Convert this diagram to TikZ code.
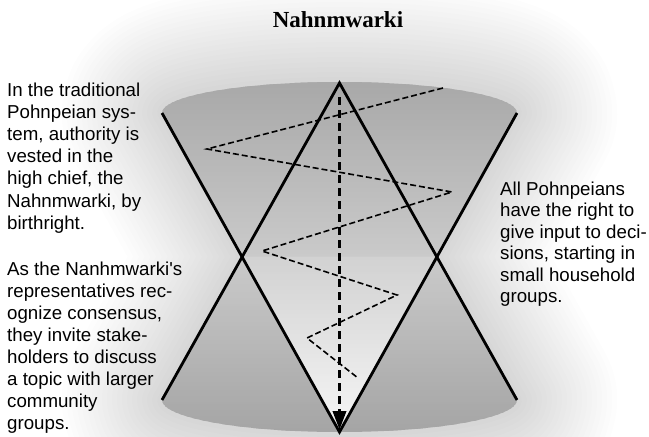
\documentclass[tikz,border=0pt]{standalone}
\usepackage{fontspec}
\setmainfont{Liberation Sans}
\newfontfamily\titlefont{Liberation Serif}
\usetikzlibrary{arrows.meta}
\definecolor{shTop}{HTML}{A8A8A8}
\definecolor{shMid}{HTML}{CACACA}
\definecolor{shBot}{HTML}{A4A4A4}
\definecolor{inTop}{HTML}{D2D2D2}
\definecolor{inBot}{HTML}{F6F6F6}
\tikzset{
  txt/.style={anchor=base west, inner sep=0pt, font=\fontsize{18.7}{22}\selectfont},
  bar/.style={line width=2.8pt, black, line join=miter},
  zig/.style={line width=1.6pt, black, dash pattern=on 6pt off 3pt},
  vert/.style={line width=3.6pt, black, dash pattern=on 8pt off 5pt, -{Triangle[width=13pt,length=19pt]}},
  glow/.style={line join=round, draw=black, opacity=0.009}
}
\begin{document}
\begin{tikzpicture}[x=1pt,y=-1pt]
\useasboundingbox (0,0) rectangle (649,437);
\fill[white] (0,0) rectangle (649,437);
% key points
\coordinate (TL) at (162,113);
\coordinate (TR) at (517,113);
\coordinate (AP) at (339.5,83);
\coordinate (BV) at (339.5,432);
\coordinate (BL) at (162,400);
\coordinate (BR) at (517,400);
\coordinate (WL) at (242,256.7);
\coordinate (WR) at (437,256.7);
% soft glow around the shape
\foreach \w in {10,20,...,200} {
  \draw[glow, line width=\w pt] (TL) arc[start angle=180, end angle=0, x radius=177.5pt, y radius=31pt]
    -- (WR) -- (BR) arc[start angle=0, end angle=-180, x radius=177.5pt, y radius=32pt]
    -- (WL) -- cycle;
}
% body shading (horizontal stripes)
\begin{scope}
  \clip (TL) arc[start angle=180, end angle=0, x radius=177.5pt, y radius=31pt]
    -- (WR) -- (BR) arc[start angle=0, end angle=-180, x radius=177.5pt, y radius=32pt]
    -- (WL) -- cycle;
  \foreach \y in {80,82,...,256} {
    \pgfmathtruncatemacro\m{(257-\y)/177*100}
    \fill[shTop!\m!shMid] (150,\y) rectangle (530,\y+2.6);
  }
  \foreach \y in {256,258,...,434} {
    \pgfmathtruncatemacro\m{min(100,(\y-256)/178*100)}
    \fill[shBot!\m!shMid] (150,\y) rectangle (530,\y+2.6);
  }
  \clip (WL) -- (WR) -- (BV) -- cycle;
  \foreach \y in {256,258,...,434} {
    \pgfmathtruncatemacro\m{min(100,(\y-256)/176*100)}
    \fill[inBot!\m!inTop] (150,\y) rectangle (530,\y+2.6);
  }
\end{scope}
% zigzag dashed path
\coordinate (Z1) at (443,88);
\coordinate (Z2) at (207,149);
\coordinate (Z3) at (452,192);
\coordinate (Z4) at (262,251);
\coordinate (Z5) at (397,295);
\coordinate (Z6) at (307,338);
\coordinate (Z7) at (358,378);
\draw[zig] (Z1) -- (Z2) -- (Z3) -- (Z4) -- (Z5) -- (Z6) -- (Z7);
% vertical arrow
\coordinate (VT) at (339.5,97);
\coordinate (VB) at (339.5,430);
\draw[vert] (VT) -- (VB);
% X lines
\draw[bar] (BL) -- (AP) -- (BR);
\draw[bar] (TL) -- (BV) -- (TR);
% title
\node[anchor=base, inner sep=0pt, font=\titlefont\bfseries\fontsize{23}{26}\selectfont] (title) at (338,27) {Nahnmwarki};
% left text
\foreach \t [count=\i from 0] in {In the traditional, Pohnpeian sys-, {tem, authority is}, vested in the, {high chief, the}, {Nahnmwarki, by}, birthright.}
  \node[txt] (la\i) at (7,{96+22.2*\i}) {\t};
\foreach \t [count=\i from 0] in {As the Nanhmwarki\textquotesingle s, representatives rec-, {ognize consensus,}, they invite stake-, holders to discuss, a topic with larger, community, groups.}
  \node[txt] (lb\i) at (7,{275+22.1*\i}) {\t};
% right text
\foreach \t [count=\i from 0] in {All Pohnpeians, have the right to, give input to deci-, {sions, starting in}, small household, groups.}
  \node[txt] (r\i) at (500,{195+21.5*\i}) {\t};
\end{tikzpicture}
\end{document}
